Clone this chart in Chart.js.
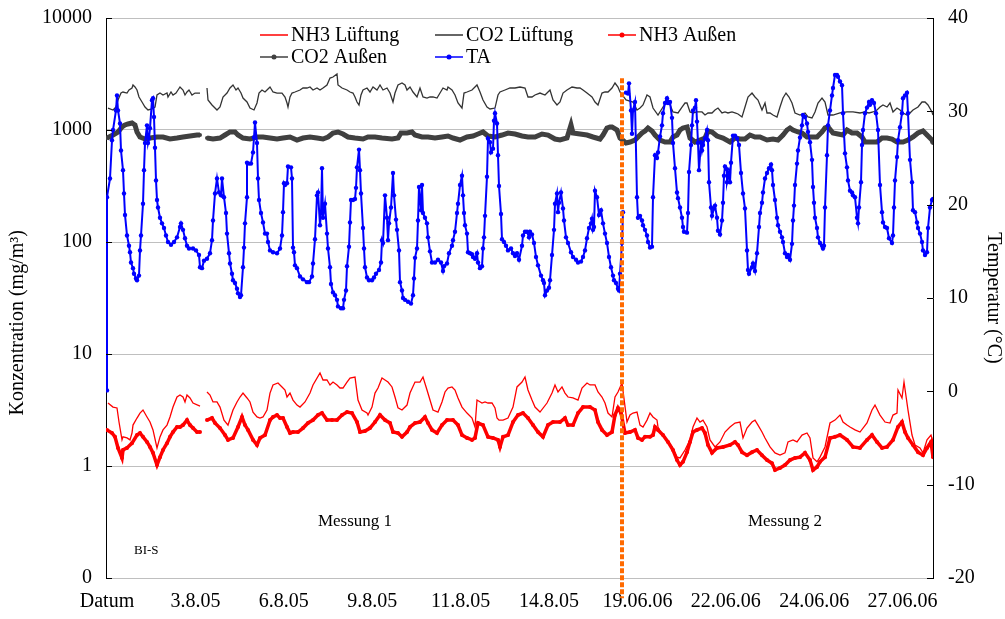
<!DOCTYPE html>
<html>
<head>
<meta charset="UTF-8">
<title>Konzentration und Temperatur</title>
<script src="https://cdn.jsdelivr.net/npm/chart.js"></script>
<style>
    body { margin: 0; background: #ffffff; }
    #wrap { width: 1005px; height: 619px; }
</style>
</head>
<body>
<div id="wrap"><canvas id="konzChart" width="1005" height="619"></canvas></div>
<script>
// Messpunkte: x = laufende Nummer des Messwerts, y = Messwert
// Beschriftung der Zeitachse (alle 88.4 Messpunkte)
const datumLabels = ['Datum', '3.8.05', '6.8.05', '9.8.05', '11.8.05', '14.8.05', '19.06.06', '22.06.06', '24.06.06', '27.06.06'];
const labelAbstand = 88.4;
const letzterPunkt = 826;

// linke Achse (log), 0.1 wird als "0" beschriftet
const konzWerte = [0.1, 1, 10, 100, 1000, 10000];
const konzLabels = ['0', '1', '10', '100', '1000', '10000'];
const tempWerte = [-20, -10, 0, 10, 20, 30, 40];

// Wechsel Messung 1 / Messung 2
const trennPunkt = 515;
const trennOben = 2900;
const trennUnten = 0.066;

// TA in °C
const taVerlauf = [[0,0.1],[0,20.8],[3,22.8],[5,26.9],[6,28.0],[9,30.1],[10,31.7],[11,30.1],[13,28.7],[14,25.8],[16,23.7],[17,21.2],[18,18.9],[20,16.7],[22,15.6],[23,14.9],[24,13.8],[26,13.2],[27,12.6],[29,12.1],[30,11.9],[32,12.4],[33,15.1],[34,16.7],[36,20.1],[37,23.7],[38,26.6],[40,28.5],[41,26.6],[42,27.1],[43,28.2],[45,31.2],[46,31.4],[47,29.4],[48,26.1],[49,22.6],[50,20.5],[51,19.7],[53,18.6],[55,18.0],[57,17.5],[59,16.7],[61,16.0],[64,15.7],[67,16.0],[70,16.5],[73,17.6],[74,18.0],[76,17.3],[78,16.4],[80,15.6],[82,15.3],[86,15.3],[89,15.1],[92,14.6],[93,13.3],[95,13.2],[97,14.0],[100,14.2],[103,14.8],[105,16.2],[106,18.3],[108,21.2],[110,22.8],[112,21.3],[114,21.0],[115,22.8],[117,20.8],[119,19.1],[120,16.9],[122,14.8],[123,13.7],[125,12.6],[126,11.9],[128,11.6],[130,11.0],[131,10.5],[133,10.1],[134,10.3],[136,13.3],[137,15.4],[138,18.0],[140,20.8],[140,24.5],[142,24.4],[144,24.4],[146,25.6],[147,27.2],[148,28.8],[150,26.6],[151,22.8],[152,20.5],[154,19.1],[156,18.1],[158,16.9],[160,16.9],[161,16.0],[163,15.1],[166,14.9],[170,14.8],[173,15.3],[175,16.7],[176,19.2],[177,22.3],[178,22.1],[180,22.3],[181,24.1],[184,24.0],[185,22.8],[186,15.4],[187,14.9],[188,13.5],[190,13.2],[193,12.3],[196,12.0],[200,11.7],[202,11.7],[205,12.3],[206,13.7],[208,16.3],[210,21.0],[211,21.3],[213,17.8],[214,19.1],[215,23.9],[216,18.6],[218,20.1],[220,16.9],[221,15.3],[223,13.3],[224,11.5],[226,10.6],[228,10.3],[230,9.8],[231,9.1],[234,8.9],[236,8.9],[237,9.8],[239,10.8],[240,13.4],[242,15.5],[243,18.1],[244,20.5],[246,20.5],[248,20.6],[249,21.8],[250,24.0],[252,25.9],[253,23.7],[254,21.2],[256,17.5],[257,15.3],[258,13.3],[260,12.2],[262,11.9],[265,11.9],[267,12.2],[269,12.6],[272,13.0],[274,13.8],[275,16.2],[276,15.9],[278,21.0],[280,18.6],[281,16.2],[282,18.0],[284,19.7],[286,23.4],[287,21.0],[289,18.4],[290,17.3],[292,15.1],[293,11.7],[295,10.8],[296,10.0],[298,9.8],[301,9.6],[304,9.4],[306,10.3],[307,12.1],[308,14.3],[310,15.3],[311,18.3],[312,21.9],[314,19.4],[315,22.1],[316,19.1],[318,18.6],[320,18.0],[321,16.5],[323,15.0],[325,13.8],[328,13.8],[331,14.1],[334,13.8],[336,12.9],[337,13.4],[340,13.7],[342,14.8],[345,15.6],[346,16.2],[348,17.1],[350,19.1],[351,20.1],[353,22.1],[355,23.1],[356,21.0],[357,19.1],[358,17.8],[360,16.9],[361,14.9],[363,14.8],[365,14.7],[366,14.4],[368,14.2],[370,14.8],[371,13.8],[373,13.2],[375,13.4],[376,15.3],[377,16.5],[378,18.8],[380,23.0],[381,27.1],[383,26.7],[384,25.6],[386,26.0],[387,29.0],[388,29.8],[390,28.7],[391,25.3],[392,22.0],[394,19.0],[395,16.3],[397,16.0],[399,15.6],[401,15.1],[404,15.3],[406,14.8],[408,14.5],[410,14.8],[412,14.1],[415,15.6],[416,16.7],[418,17.1],[420,17.1],[422,16.5],[423,17.1],[425,16.8],[427,15.9],[429,14.4],[431,13.5],[434,12.4],[436,11.9],[437,11.6],[438,10.3],[440,10.8],[442,11.1],[443,11.9],[445,14.6],[447,17.3],[448,20.1],[450,21.2],[451,19.2],[452,20.2],[454,21.3],[456,19.6],[457,18.3],[459,16.5],[461,15.9],[464,14.9],[466,14.4],[469,14.1],[471,13.8],[474,13.9],[476,14.4],[478,15.1],[480,16.4],[482,17.5],[484,18.0],[485,18.5],[486,17.3],[487,17.6],[488,21.5],[490,20.8],[492,18.9],[494,19.4],[496,18.0],[498,16.9],[500,15.9],[502,14.4],[504,13.3],[506,12.4],[507,11.9],[509,11.6],[511,11.0],[512,10.8],[513,12.6],[515,15.9],[516,19.2],[517,null],[519,32.0],[521,31.9],[522,33.0],[524,30.1],[525,27.6],[526,30.1],[528,31.0],[530,20.8],[531,18.6],[533,18.8],[535,18.3],[536,17.8],[538,17.3],[540,16.7],[541,16.0],[543,15.4],[545,15.5],[546,20.8],[548,25.3],[550,25.0],[551,25.6],[553,27.3],[555,28.5],[556,29.8],[558,30.9],[560,31.4],[561,30.9],[563,31.0],[565,29.3],[566,26.6],[568,23.9],[570,21.3],[571,20.7],[573,19.7],[575,18.6],[576,17.6],[577,17.1],[580,17.0],[581,19.1],[582,23.5],[584,26.4],[585,28.5],[586,30.1],[588,30.4],[589,31.2],[590,28.9],[591,26.6],[592,23.7],[594,26.7],[595,25.8],[596,26.4],[598,27.1],[600,28.0],[601,26.9],[602,22.4],[604,19.7],[605,18.8],[607,19.6],[608,19.9],[610,18.6],[611,17.2],[613,16.8],[615,18.3],[616,20.2],[617,23.1],[618,24.1],[620,23.8],[620,22.4],[622,23.4],[623,22.4],[624,24.5],[626,27.4],[628,27.4],[630,27.1],[632,26.4],[634,23.4],[636,21.2],[638,19.6],[640,15.1],[641,13.0],[642,12.6],[645,13.3],[646,13.7],[648,12.9],[650,14.8],[652,17.6],[653,19.1],[655,20.2],[656,21.3],[658,22.8],[660,23.4],[662,23.9],[664,24.3],[665,23.7],[666,22.1],[668,20.5],[670,18.6],[671,17.8],[673,17.1],[675,16.5],[676,16.0],[678,14.8],[680,14.4],[681,14.6],[683,14.1],[685,15.8],[686,18.3],[687,19.9],[688,22.1],[690,24.4],[691,25.8],[693,27.2],[695,28.5],[696,29.6],[698,29.4],[700,28.7],[701,27.8],[703,26.7],[705,24.8],[706,21.9],[707,20.2],[708,18.6],[710,17.5],[711,16.5],[713,15.9],[715,15.6],[716,15.3],[717,15.6],[718,19.7],[720,25.3],[721,28.5],[723,30.1],[725,31.7],[726,32.5],[728,33.9],[730,33.9],[731,33.7],[733,33.2],[735,32.8],[736,29.8],[738,25.5],[740,24.0],[741,22.6],[743,21.5],[745,21.3],[746,21.0],[748,20.8],[750,18.6],[751,18.0],[752,19.7],[754,22.4],[755,26.4],[756,28.0],[758,29.8],[760,30.4],[762,31.0],[763,30.7],[765,31.2],[767,30.9],[769,29.8],[771,28.0],[773,22.1],[775,19.2],[776,18.1],[778,17.6],[780,17.5],[782,16.4],[785,15.9],[786,16.7],[787,19.7],[788,22.6],[790,25.1],[791,26.9],[793,28.3],[795,29.8],[796,31.4],[798,31.7],[800,32.0],[801,29.8],[803,24.8],[805,22.4],[806,19.4],[808,19.2],[810,18.1],[811,17.5],[813,16.9],[815,16.0],[816,15.1],[818,14.6],[820,14.9],[821,17.5],[823,19.7],[825,20.5],[826,20.6]];

// CO2 Lüftung in mg/m³
const co2Lueftung = [[1,1571],[6,1509],[9,1604],[11,1853],[14,2138],[16,2184],[20,2138],[22,2276],[25,2371],[26,2523],[28,2421],[30,2276],[32,1971],[35,1778],[38,1604],[41,1509],[45,1540],[48,1604],[50,2054],[53,2138],[56,2054],[60,2138],[61,1971],[64,2184],[66,2054],[69,2138],[71,2276],[73,2421],[76,2276],[78,2054],[80,2184],[82,2276],[85,2054],[88,2138],[93,2138],[96,null],[100,2371],[101,1853],[105,1672],[110,1509],[113,1604],[116,1971],[120,2138],[123,2371],[126,2523],[129,2276],[131,2371],[134,2138],[136,1930],[140,1778],[143,1571],[147,1509],[150,1742],[152,2138],[155,2276],[158,2184],[161,2323],[163,2421],[166,2184],[170,2138],[175,2138],[178,1971],[180,1742],[181,1604],[183,1971],[185,2138],[188,2184],[193,2276],[196,2371],[200,2371],[203,2421],[206,2276],[210,2371],[213,2276],[216,2371],[220,2523],[223,2911],[226,2973],[230,3162],[231,2523],[235,2371],[240,2276],[243,2184],[246,2138],[248,1971],[250,1778],[252,1672],[254,2054],[256,2276],[260,2371],[263,2184],[266,2421],[270,2276],[273,2523],[276,2276],[280,2371],[283,2138],[286,1778],[288,2138],[291,2523],[295,2628],[298,2523],[300,2276],[303,2421],[306,2184],[310,1971],[313,2371],[316,1971],[320,1930],[323,1971],[326,1971],[330,1930],[333,2138],[336,2371],[340,2276],[341,2421],[345,2276],[348,2054],[351,1742],[355,1571],[357,2138],[360,2184],[365,2276],[370,2523],[373,2184],[376,1853],[380,1604],[383,1540],[388,1571],[391,2054],[393,2184],[398,2276],[403,2371],[408,2371],[413,2421],[418,2371],[421,1971],[425,1971],[428,2054],[433,2138],[438,2054],[443,2276],[446,1853],[450,1672],[453,1778],[456,2138],[460,2276],[465,2421],[470,2371],[473,2371],[476,2276],[480,2138],[485,1971],[488,1778],[491,1672],[495,2138],[498,2184],[501,2184],[505,2371],[508,2628],[511,2421],[513,2184],[519,1853],[526,1778],[530,1509],[533,1571],[536,1672],[540,2054],[543,1971],[546,1571],[551,1361],[556,1604],[561,1853],[566,1449],[571,1419],[575,1604],[578,1742],[580,1742],[583,1449],[586,1419],[590,1449],[595,1449],[598,1361],[601,1419],[605,1419],[608,1509],[611,1571],[615,1419],[618,1449],[621,1419],[625,1449],[628,1419],[631,1390],[635,1307],[638,1604],[641,1971],[645,2138],[648,1971],[651,1853],[655,1509],[658,1742],[660,1419],[663,1419],[666,1361],[670,1307],[673,1604],[676,1930],[679,2138],[682,1971],[685,1742],[688,1419],[693,1361],[698,1419],[701,1307],[705,1280],[708,1449],[711,1742],[715,1930],[718,1778],[721,1361],[726,1361],[733,1419],[740,1449],[746,1449],[753,1419],[758,1449],[762,1419],[766,1449],[770,1509],[773,1604],[776,1672],[780,1604],[783,1742],[786,1449],[790,1571],[793,1509],[796,1419],[800,1361],[803,1419],[806,1509],[811,1604],[815,1778],[818,1778],[821,1672],[825,1449],[826,1361]];

// CO2 Außen in mg/m³
const co2Aussen = [[0,848],[6,902],[11,960],[15,1065],[18,1109],[21,1132],[25,1155],[28,1109],[30,960],[33,866],[38,831],[43,848],[50,866],[56,866],[63,831],[70,848],[76,866],[83,884],[90,902],[93,902],[96,null],[100,848],[106,831],[113,848],[118,902],[123,960],[128,960],[131,902],[136,848],[143,831],[150,866],[156,866],[163,848],[170,831],[176,848],[183,866],[190,814],[196,848],[203,866],[210,848],[216,831],[221,866],[226,940],[231,960],[236,921],[241,866],[248,848],[256,831],[261,866],[268,866],[275,848],[285,831],[291,848],[294,940],[300,940],[305,960],[308,902],[315,866],[321,866],[328,848],[335,866],[341,884],[346,848],[353,814],[360,866],[366,884],[371,921],[376,960],[381,884],[388,866],[395,902],[401,940],[408,921],[415,884],[421,866],[428,866],[435,921],[441,902],[448,831],[453,814],[460,848],[464,1109],[466,940],[473,921],[480,902],[486,866],[493,831],[496,902],[500,1043],[503,1065],[505,1065],[510,1000],[513,848],[519,765],[523,781],[528,814],[531,866],[535,940],[538,980],[541,1043],[545,980],[548,902],[553,814],[558,781],[563,781],[566,866],[570,902],[573,1000],[576,1043],[580,1065],[583,848],[588,781],[593,814],[598,848],[601,980],[605,960],[610,884],[616,848],[623,781],[628,848],[633,831],[638,831],[643,902],[648,866],[653,866],[660,814],[666,831],[671,814],[676,902],[680,1000],[683,1043],[686,1000],[691,960],[695,940],[700,866],[705,866],[710,866],[715,960],[718,1043],[721,1065],[726,940],[731,921],[736,902],[740,1000],[745,940],[750,940],[755,866],[758,781],[765,781],[770,781],[775,848],[780,848],[785,831],[790,781],[796,781],[801,814],[806,866],[811,940],[816,980],[820,902],[825,814],[826,765]];

// NH3 Lüftung in mg/m³
const nh3Lueftung = [[1,3.65],[6,3.36],[10,3.30],[12,2.47],[15,1.71],[16,1.82],[20,1.78],[23,1.71],[25,1.97],[26,2.32],[30,2.68],[33,2.97],[36,3.16],[40,2.74],[43,2.47],[46,2.10],[50,1.45],[53,1.82],[56,2.10],[60,2.32],[63,2.74],[66,3.36],[70,4.13],[73,4.30],[76,4.13],[78,3.73],[80,4.30],[83,4.05],[86,3.65],[93,3.43],[96,null],[100,4.58],[103,4.30],[106,3.73],[110,3.73],[113,3.36],[117,2.57],[121,2.32],[126,3.16],[130,3.73],[133,4.13],[136,4.48],[140,4.05],[143,3.73],[146,3.03],[150,2.74],[153,2.68],[156,2.74],[160,3.16],[163,4.48],[166,5.29],[171,5.51],[175,5.08],[178,4.77],[180,4.13],[183,4.48],[186,3.88],[190,3.50],[193,3.36],[198,3.73],[203,4.48],[206,5.29],[213,6.77],[216,5.86],[220,5.86],[223,5.29],[226,5.62],[230,5.29],[233,4.97],[236,4.97],[240,5.62],[243,6.10],[248,6.23],[251,3.88],[255,3.16],[260,2.97],[261,2.85],[265,3.36],[268,4.48],[271,4.97],[275,6.10],[278,5.86],[281,5.62],[285,5.08],[288,4.13],[291,3.30],[295,3.16],[300,3.50],[303,4.48],[308,5.62],[313,5.62],[316,6.23],[320,4.77],[323,3.88],[326,3.16],[331,3.03],[335,3.73],[338,4.58],[341,4.97],[345,5.08],[348,4.77],[351,4.05],[355,3.36],[360,2.97],[365,2.68],[368,2.23],[370,3.88],[375,3.65],[378,3.73],[381,3.65],[385,3.65],[388,3.30],[390,2.68],[392,2.57],[396,2.57],[401,2.68],[406,3.36],[410,5.08],[415,5.62],[418,6.23],[421,4.77],[425,3.88],[428,3.36],[433,3.03],[440,3.65],[445,4.48],[448,5.29],[451,4.58],[455,5.08],[458,4.48],[461,4.13],[466,4.05],[471,3.88],[475,4.97],[480,5.51],[483,5.29],[488,5.29],[491,4.58],[495,4.13],[498,3.65],[501,2.97],[505,2.74],[508,4.13],[511,4.58],[515,5.51],[520,2.47],[523,2.85],[526,2.97],[530,3.03],[533,2.32],[536,2.23],[540,2.57],[543,2.97],[546,2.74],[550,2.57],[551,2.23],[555,1.89],[560,1.71],[565,1.48],[570,1.20],[573,1.18],[578,1.39],[583,1.71],[586,2.23],[590,2.68],[593,2.47],[596,2.57],[600,2.23],[603,1.71],[608,1.48],[613,1.64],[618,2.01],[623,2.23],[628,2.42],[633,2.47],[636,1.78],[640,2.18],[645,2.47],[648,2.57],[651,2.32],[655,2.01],[658,1.78],[663,1.48],[668,1.31],[673,1.25],[678,1.31],[681,1.64],[686,1.71],[690,1.64],[695,1.89],[700,1.97],[703,1.78],[706,1.18],[710,1.09],[713,1.20],[718,1.48],[723,2.42],[728,2.57],[733,2.85],[736,2.47],[740,2.32],[743,2.23],[748,2.10],[753,2.01],[760,2.42],[765,3.16],[768,3.50],[773,2.85],[778,2.47],[783,2.42],[786,2.85],[790,2.97],[791,4.77],[795,4.05],[797,5.62],[801,3.16],[805,1.89],[808,1.54],[813,1.45],[816,1.31],[820,1.71],[824,1.89],[826,1.64]];

// NH3 Außen in mg/m³
const nh3Aussen = [[0,2.10],[5,1.97],[8,1.82],[11,1.45],[15,1.18],[16,1.39],[20,1.45],[25,1.60],[30,1.89],[33,1.97],[36,1.82],[40,1.64],[43,1.48],[46,1.31],[50,1.02],[53,1.20],[56,1.39],[60,1.60],[63,1.82],[66,2.01],[70,2.23],[73,2.23],[76,2.32],[80,2.57],[83,2.32],[86,2.18],[90,2.01],[93,2.01],[96,null],[100,2.57],[105,2.68],[108,2.42],[113,2.18],[118,1.89],[121,1.71],[126,1.78],[131,2.23],[135,2.74],[138,2.32],[141,2.10],[146,1.71],[150,1.54],[153,1.78],[158,1.89],[163,2.57],[166,2.74],[170,2.85],[173,2.68],[176,2.68],[180,2.23],[183,1.97],[186,2.01],[191,2.01],[196,2.18],[201,2.42],[206,2.57],[211,2.85],[215,2.97],[220,2.57],[225,2.57],[230,2.57],[235,2.85],[240,3.03],[245,2.97],[250,2.47],[253,2.01],[258,2.05],[263,2.18],[268,2.47],[273,2.85],[278,2.57],[283,2.42],[286,2.01],[291,1.97],[295,1.82],[300,2.01],[303,2.23],[308,2.42],[313,2.47],[318,2.74],[321,2.42],[325,2.10],[330,1.97],[335,2.32],[340,2.57],[346,2.57],[351,2.32],[355,1.89],[360,1.78],[365,1.71],[368,1.78],[371,2.42],[376,2.32],[381,1.82],[386,1.78],[391,1.71],[393,1.48],[396,1.82],[401,1.89],[406,2.47],[411,2.85],[416,2.97],[421,2.68],[426,2.32],[431,2.01],[436,1.82],[441,2.32],[446,2.47],[453,2.47],[458,2.68],[461,2.32],[466,2.32],[471,2.97],[476,3.36],[483,3.36],[488,3.16],[491,2.47],[495,2.10],[500,1.89],[505,2.01],[508,2.85],[511,3.30],[514,2.97],[518,1.97],[523,2.01],[528,2.10],[531,1.78],[535,1.71],[538,1.82],[543,1.82],[546,1.89],[548,2.23],[551,2.10],[556,1.89],[561,1.64],[566,1.39],[570,1.13],[573,1.02],[576,1.09],[580,1.33],[583,1.64],[586,2.01],[590,2.10],[595,2.18],[598,1.97],[601,1.54],[605,1.31],[610,1.45],[616,1.48],[623,1.54],[628,1.64],[631,1.54],[635,1.33],[640,1.25],[645,1.33],[650,1.39],[655,1.25],[660,1.13],[665,1.06],[668,0.92],[673,0.96],[678,1.02],[683,1.13],[688,1.18],[693,1.20],[698,1.31],[703,1.13],[706,0.92],[710,0.98],[713,1.09],[718,1.20],[723,1.78],[728,1.82],[733,1.89],[740,1.71],[746,1.48],[753,1.45],[760,1.71],[765,1.89],[770,1.64],[775,1.45],[780,1.48],[786,1.71],[791,2.23],[795,2.47],[798,2.01],[801,1.78],[806,1.54],[811,1.33],[816,1.25],[820,1.45],[824,1.64],[826,1.20]];

const serif = "'Liberation Serif', 'Times New Roman', serif";
const toPoints = (arr) => arr.map(([x, y]) => ({ x: x, y: y }));

// Wertachsen: feste Breite, kein Zusatzabstand für überstehende Beschriftung
function festeBreite(breite) {
    return (scale) => {
        scale.width = breite;
        scale.paddingTop = 0;
        scale.paddingBottom = 0;
    };
}

// Legende in zwei Zeilen mit festen Spalten
const legendPlugin = {
    id: 'spaltenLegende',
    afterDraw(chart) {
        const ctx = chart.ctx;
        const spalten = [260, 435, 608];
        const zeilen = [35, 57];
        const eintraege = chart.data.datasets.filter(d => d.legendIndex !== undefined)
            .sort((a, b) => a.legendIndex - b.legendIndex);
        ctx.save();
        ctx.font = '20px ' + serif;
        ctx.textBaseline = 'middle';
        ctx.textAlign = 'left';
        eintraege.forEach((ds, i) => {
            const x = spalten[i % 3];
            const y = zeilen[Math.floor(i / 3)];
            ctx.strokeStyle = ds.borderColor;
            ctx.lineWidth = 1.5;
            ctx.beginPath();
            ctx.moveTo(x, y);
            ctx.lineTo(x + 28, y);
            ctx.stroke();
            if (ds.pointRadius > 0) {
                ctx.fillStyle = ds.borderColor;
                ctx.beginPath();
                ctx.arc(x + 14, y, 2.5, 0, Math.PI * 2);
                ctx.fill();
            }
            ctx.fillStyle = '#000000';
            ctx.fillText(ds.label, x + 31, y + 1);
        });
        ctx.restore();
    }
};

// kurze Teilstriche nach innen an beiden Wertachsen
const innenTicks = {
    id: 'innenTicks',
    afterDatasetsDraw(chart) {
        const ctx = chart.ctx;
        const yl = chart.scales.y;
        const yr = chart.scales.y1;
        ctx.save();
        ctx.strokeStyle = '#000000';
        ctx.lineWidth = 1;
        konzWerte.forEach(v => {
            const py = Math.round(yl.getPixelForValue(v)) + 0.5;
            ctx.beginPath();
            ctx.moveTo(yl.right, py);
            ctx.lineTo(yl.right + 6, py);
            ctx.stroke();
        });
        tempWerte.forEach(v => {
            const py = Math.round(yr.getPixelForValue(v)) + 0.5;
            ctx.beginPath();
            ctx.moveTo(yr.left - 6, py);
            ctx.lineTo(yr.left, py);
            ctx.stroke();
        });
        ctx.restore();
    }
};

// Beschriftung der Messabschnitte und Titel der linken Achse
const textPlugin = {
    id: 'abschnitte',
    afterDraw(chart) {
        const ctx = chart.ctx;
        const sx = chart.scales.x;
        const sy = chart.scales.y;
        ctx.save();
        ctx.fillStyle = '#000000';
        ctx.textBaseline = 'middle';
        ctx.font = '17px ' + serif;
        ctx.textAlign = 'center';
        ctx.fillText('Messung 1', sx.getPixelForValue(248), sy.getPixelForValue(0.32));
        ctx.fillText('Messung 2', sx.getPixelForValue(678), sy.getPixelForValue(0.32));
        ctx.font = '13px ' + serif;
        ctx.textAlign = 'left';
        ctx.fillText('BI-S', sx.getPixelForValue(27), sy.getPixelForValue(0.174));

        // Achsentitel etwas unterhalb der Mitte
        ctx.font = '20px ' + serif;
        ctx.textAlign = 'center';
        ctx.translate(18, sy.getPixelForValue(19));
        ctx.rotate(-Math.PI / 2);
        ctx.fillText('Konzentration (mg/m³)', 0, 0);
        ctx.restore();
    }
};

const ctx = document.getElementById('konzChart').getContext('2d');
const chart = new Chart(ctx, {
    type: 'line',
    data: {
        datasets: [
            {
                label: 'Trennung',
                data: [{ x: trennPunkt, y: trennOben }, { x: trennPunkt, y: trennUnten }],
                yAxisID: 'y',
                borderColor: '#FF6A00',
                borderWidth: 4,
                borderDash: [5, 2],
                pointRadius: 0,
                clip: false
            },
            {
                label: 'TA',
                legendIndex: 4,
                data: toPoints(taVerlauf),
                yAxisID: 'y1',
                borderColor: '#0000FF',
                backgroundColor: '#0000FF',
                borderWidth: 2,
                pointRadius: 2.2,
                pointBorderWidth: 0
            },
            {
                label: 'NH3 Außen',
                legendIndex: 2,
                data: toPoints(nh3Aussen),
                yAxisID: 'y',
                borderColor: '#FF0000',
                backgroundColor: '#FF0000',
                borderWidth: 3.5,
                pointRadius: 2,
                pointBorderWidth: 0
            },
            {
                label: 'CO2 Außen',
                legendIndex: 3,
                data: toPoints(co2Aussen),
                yAxisID: 'y',
                borderColor: '#404040',
                backgroundColor: '#404040',
                borderWidth: 5,
                pointRadius: 2,
                pointBorderWidth: 0
            },
            {
                label: 'NH3 Lüftung',
                legendIndex: 0,
                data: toPoints(nh3Lueftung),
                yAxisID: 'y',
                borderColor: '#FF0000',
                borderWidth: 1.3,
                pointRadius: 0
            },
            {
                label: 'CO2 Lüftung',
                legendIndex: 1,
                data: toPoints(co2Lueftung),
                yAxisID: 'y',
                borderColor: '#333333',
                borderWidth: 1.3,
                pointRadius: 0
            }
        ]
    },
    options: {
        responsive: false,
        animation: false,
        devicePixelRatio: 1,
        spanGaps: false,
        layout: { padding: { top: 18, left: 0, right: 0, bottom: 0 } },
        plugins: {
            legend: { display: false },
            tooltip: { enabled: false }
        },
        scales: {
            x: {
                type: 'linear',
                min: -1,
                max: letzterPunkt,
                afterBuildTicks: (scale) => {
                    scale.ticks = datumLabels.map((_, i) => ({ value: i * labelAbstand }));
                },
                afterFit: (scale) => { scale.height = 41; },
                ticks: {
                    autoSkip: false,
                    maxRotation: 0,
                    padding: 12,
                    color: '#000000',
                    font: { family: serif, size: 20 },
                    callback: (v, i) => datumLabels[i]
                },
                grid: { display: false, drawTicks: false },
                border: { display: false }
            },
            y: {
                type: 'logarithmic',
                position: 'left',
                min: 0.1,
                max: 10000,
                afterBuildTicks: (scale) => {
                    scale.ticks = konzWerte.map(v => ({ value: v }));
                },
                afterFit: festeBreite(106),
                ticks: {
                    padding: 14,
                    color: '#000000',
                    font: { family: serif, size: 20 },
                    callback: (v) => konzLabels[konzWerte.indexOf(v)]
                },
                grid: { color: '#BFBFBF', lineWidth: 1, drawTicks: false },
                border: { display: true, color: '#000000', width: 1 }
            },
            y1: {
                type: 'linear',
                position: 'right',
                min: -20,
                max: 40,
                afterBuildTicks: (scale) => {
                    scale.ticks = tempWerte.map(v => ({ value: v }));
                },
                afterFit: festeBreite(72),
                ticks: {
                    padding: 15,
                    color: '#000000',
                    font: { family: serif, size: 20 }
                },
                grid: { drawOnChartArea: false, drawTicks: false },
                border: { display: true, color: '#000000', width: 1 },
                title: {
                    display: true,
                    text: 'Temperatur (°C)',
                    color: '#000000',
                    font: { family: serif, size: 20 },
                    padding: { top: 0, bottom: 0 }
                }
            }
        }
    },
    plugins: [innenTicks, textPlugin, legendPlugin]
});
</script>
</body>
</html>
